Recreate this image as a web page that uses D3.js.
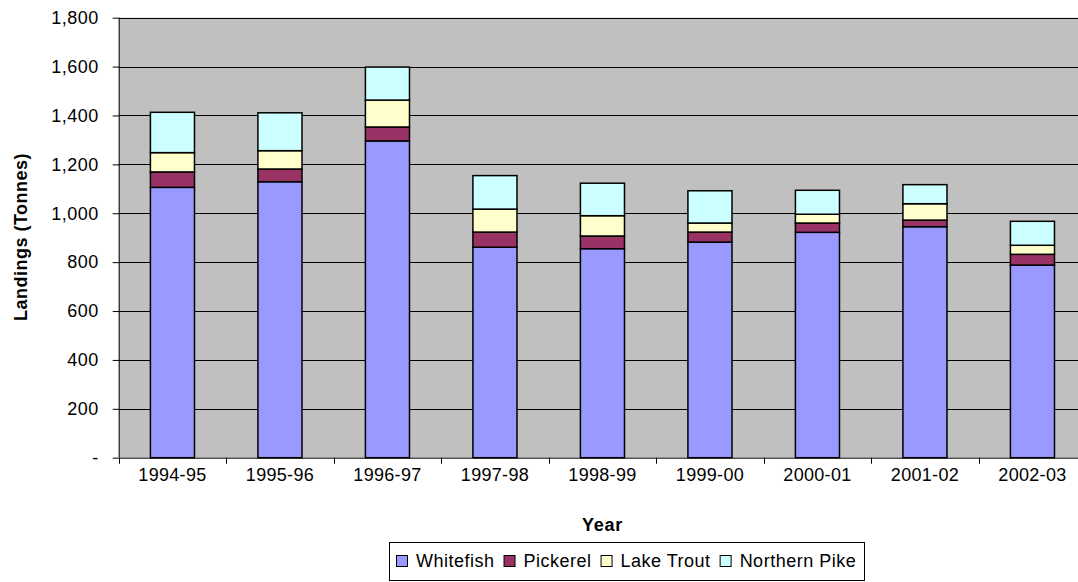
<!DOCTYPE html>
<html>
<head>
<meta charset="utf-8">
<script src="https://cdn.jsdelivr.net/npm/d3@7/dist/d3.min.js"></script>
<style>
  html, body { margin: 0; padding: 0; background: #fff; }
  svg { display: block; }
  text { font-family: "Liberation Sans", Arial, sans-serif; fill: #000; }
</style>
</head>
<body>
<svg id="chart" width="1078" height="582"></svg>
<script>
const years = ["1994-95","1995-96","1996-97","1997-98","1998-99","1999-00","2000-01","2001-02","2002-03"];
const seriesNames = ["Whitefish","Pickerel","Lake Trout","Northern Pike"];
const whitefish    = [1106, 1129, 1296, 861, 855, 882, 922, 945, 788];
const pickerel     = [  63,   52,   57,  62,  52,  41,  38,  27,  44];
const lakeTrout    = [  79,   75,  110,  94,  83,  37,  36,  67,  37];
const northernPike = [ 165,  155,  135, 137, 133, 132,  98,  78,  98];
const yTicks = [0, 200, 400, 600, 800, 1000, 1200, 1400, 1600, 1800];
const colors = ["#9999FF", "#993366", "#FFFFCC", "#CCFFFF"];

const table = years.map((yr, i) => ({
  year: yr,
  "Whitefish": whitefish[i],
  "Pickerel": pickerel[i],
  "Lake Trout": lakeTrout[i],
  "Northern Pike": northernPike[i]
}));

const svg = d3.select("#chart");
const pLeft = 118.7, pRight = 1086.2, pTop = 17.7, pBottom = 457.7;
const fontSize = 18;

const x = d3.scaleBand().domain(years).range([pLeft, pRight]).paddingInner(0.59).paddingOuter(0.295);
const y = d3.scaleLinear().domain([0, 1800]).range([pBottom, pTop]);

// plot background
svg.append("rect").attr("x", pLeft).attr("y", pTop).attr("width", pRight - pLeft).attr("height", pBottom - pTop).attr("fill", "#C0C0C0");

// gridlines
svg.append("g").selectAll("line").data(yTicks.filter(d => d > 0)).join("line")
  .attr("x1", pLeft).attr("x2", pRight)
  .attr("y1", d => Math.round(y(d)) + 0.5).attr("y2", d => Math.round(y(d)) + 0.5)
  .attr("stroke", "#000").attr("stroke-width", 1);

// bars
const stack = d3.stack().keys(seriesNames)(table);
svg.append("g").selectAll("g").data(stack).join("g")
  .attr("fill", (d, i) => colors[i])
  .selectAll("rect").data(d => d).join("rect")
  .attr("x", d => x(d.data.year))
  .attr("width", x.bandwidth())
  .attr("y", d => y(d[1]))
  .attr("height", d => y(d[0]) - y(d[1]))
  .attr("stroke", "#000").attr("stroke-width", 1.5);

// y axis
const yAxis = d3.axisLeft(y).tickValues(yTicks).tickSize(6).tickPadding(14)
  .tickFormat(d => d === 0 ? "-" : d3.format(",")(d));
const gy = svg.append("g").attr("transform", `translate(${pLeft},0)`).call(yAxis);
gy.selectAll("text").style("font-size", fontSize + "px").style("letter-spacing", "0.5px")
  .attr("font-family", null).attr("fill", "#000");
gy.selectAll("line, path").attr("stroke", "#000");
gy.select(".domain").attr("d", `M0.5,${pTop}V${pBottom}`);

// x axis
const xAxis = d3.axisBottom(x).tickSize(0).tickPadding(11);
const gx = svg.append("g").attr("transform", `translate(0,${pBottom})`).call(xAxis);
gx.select(".domain").attr("d", `M${pLeft},0.5H${pRight}`).attr("stroke", "#000");
gx.selectAll("text").style("font-size", fontSize + "px").style("letter-spacing", "0.3px")
  .attr("font-family", null).attr("fill", "#000");
// boundary ticks between categories
gx.append("g").selectAll("line").data(years).join("line")
  .attr("x1", d => Math.round(x(d) + x.bandwidth() / 2 - x.step() / 2) + 0.5)
  .attr("x2", d => Math.round(x(d) + x.bandwidth() / 2 - x.step() / 2) + 0.5)
  .attr("y1", 0).attr("y2", 6).attr("stroke", "#000");

// axis titles
svg.append("text").attr("x", 602.5).attr("y", 531)
  .attr("text-anchor", "middle").style("font-size", fontSize + "px").style("font-weight", "bold")
  .style("letter-spacing", "0.8px").text("Year");
svg.append("text").attr("transform", "translate(27,237) rotate(-90)")
  .attr("text-anchor", "middle").style("font-size", fontSize + "px").style("font-weight", "bold")
  .style("letter-spacing", "0.5px").text("Landings (Tonnes)");

// legend
const legend = svg.append("g");
legend.append("rect").attr("x", 389.5).attr("y", 542.5).attr("width", 475).attr("height", 38)
  .attr("fill", "#fff").attr("stroke", "#000").attr("stroke-width", 1);
let lx = 396;
seriesNames.forEach((name, i) => {
  legend.append("rect").attr("x", lx + 0.5).attr("y", 555.5).attr("width", 11).attr("height", 11)
    .attr("fill", colors[i]).attr("stroke", "#000").attr("stroke-width", 1);
  const t = legend.append("text").attr("x", lx + 20).attr("y", 567)
    .style("font-size", fontSize + "px").style("letter-spacing", "0.5px").text(name);
  lx = lx + 20 + t.node().getComputedTextLength() + 9;
});
</script>
</body>
</html>
